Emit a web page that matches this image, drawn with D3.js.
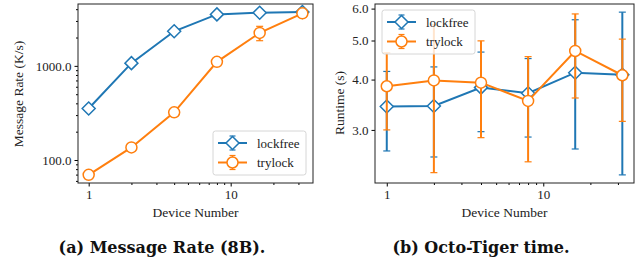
<!DOCTYPE html>
<html>
<head>
<meta charset="utf-8">
<script src="https://cdn.jsdelivr.net/npm/d3@7"></script>
<style>
  body { margin: 0; background: #fff; }
  svg text { font-family: "Liberation Serif", "Times New Roman", serif; fill: #222; }
  svg text.caption { font-family: "DejaVu Serif", serif; font-weight: bold; fill: #111; }
</style>
</head>
<body>
<svg id="chart" width="642" height="273"></svg>
<script>
// device counts shared by both panels
const devices = [1, 2, 4, 8, 16, 32];

// (a) message rate, K/s
const rateLockfree = [352, 1069, 2330, 3520, 3670, 3730];
const rateLockfreeErr = [8, 20, 40, 60, 60, 60];
const rateTrylock = [69.6, 136, 321, 1104, 2240, 3610];
const rateTrylockErr = [1.5, 3, 8, 30, 390, 60];

// (b) Octo-Tiger runtime, s (value, low, high of the error bar)
const timeLockfree = [3.43, 3.44, 3.82, 3.70, 4.16, 4.11];
const timeLockfreeLo = [2.66, 2.57, 2.97, 2.88, 2.69, 2.32];
const timeLockfreeHi = [4.19, 4.30, 4.68, 4.51, 5.63, 5.88];
const timeTrylock = [3.85, 3.98, 3.93, 3.54, 4.71, 4.10];
const timeTrylockLo = [3.00, 2.35, 2.87, 2.50, 3.60, 3.15];
const timeTrylockHi = [4.66, 5.47, 4.99, 4.56, 5.82, 5.04];

const xTicks = [1, 10];
const rateTicks = [100, 1000];
const timeTicks = [3, 4, 5, 6];
const seriesNames = ['lockfree', 'trylock'];
const colors = ['#1f77b4', '#ff7f0e'];

const svg = d3.select('#chart');

function diamond(r) {
    return `M0,${-r}L${r},0L0,${r}L${-r},0Z`;
}

function drawPanel(cfg) {
    const g = svg.append('g');
    const x = d3.scaleLog().domain([0.841, 38.0]).range([cfg.left, cfg.right]);
    const y = d3.scaleLog().domain(cfg.yDomain).range([cfg.bottom, cfg.top]);

    // minor x ticks
    const xMinor = [];
    [1, 10].forEach(b => { for (let k = 2; k <= 9; k++) if (b * k < 38) xMinor.push(b * k); });
    g.append('g')
        .attr('transform', `translate(0,${cfg.bottom})`)
        .call(d3.axisBottom(x).tickValues(xMinor).tickSize(2).tickFormat(''))
        .call(a => a.select('.domain').remove());
    g.append('g')
        .attr('transform', `translate(0,${cfg.bottom})`)
        .call(d3.axisBottom(x).tickValues(xTicks).tickSize(3.5).tickPadding(3).tickFormat(d3.format('d')))
        .call(a => a.select('.domain').remove())
        .call(a => a.selectAll('text').attr('font-size', 13).attr('fill', '#222'));

    if (cfg.yMinor) {
        g.append('g')
            .attr('transform', `translate(${cfg.left},0)`)
            .call(d3.axisLeft(y).tickValues(cfg.yMinor).tickSize(2).tickFormat(''))
            .call(a => a.select('.domain').remove());
    }
    g.append('g')
        .attr('transform', `translate(${cfg.left},0)`)
        .call(d3.axisLeft(y).tickValues(cfg.yTicks).tickSize(3.5).tickPadding(3).tickFormat(d3.format('.1f')))
        .call(a => a.select('.domain').remove())
        .call(a => a.selectAll('text').attr('font-size', 13).attr('fill', '#222'));

    // frame
    g.append('rect')
        .attr('x', cfg.left).attr('y', cfg.top)
        .attr('width', cfg.right - cfg.left).attr('height', cfg.bottom - cfg.top)
        .attr('fill', 'none').attr('stroke', '#222').attr('stroke-width', 1);

    const plot = g.append('g');
    cfg.series.forEach((s, i) => {
        const c = colors[i];
        const pts = devices.map((d, j) => ({x: d, v: s.v[j], lo: s.lo[j], hi: s.hi[j]}));
        // error bars
        pts.forEach(p => {
            const px = x(p.x);
            plot.append('line').attr('x1', px).attr('x2', px)
                .attr('y1', y(p.lo)).attr('y2', y(p.hi))
                .attr('stroke', c).attr('stroke-width', 2);
            [p.lo, p.hi].forEach(e => {
                plot.append('line').attr('x1', px - 3.5).attr('x2', px + 3.5)
                    .attr('y1', y(e)).attr('y2', y(e))
                    .attr('stroke', c).attr('stroke-width', 1.2);
            });
        });
        plot.append('path').datum(pts)
            .attr('d', d3.line().x(p => x(p.x)).y(p => y(p.v)))
            .attr('fill', 'none').attr('stroke', c).attr('stroke-width', 2);
        pts.forEach(p => {
            if (i === 0) {
                plot.append('path').attr('d', diamond(6.5))
                    .attr('transform', `translate(${x(p.x)},${y(p.v)})`)
                    .attr('fill', '#fff').attr('stroke', c).attr('stroke-width', 1.5);
            } else {
                plot.append('circle').attr('cx', x(p.x)).attr('cy', y(p.v)).attr('r', 5.5)
                    .attr('fill', '#fff').attr('stroke', c).attr('stroke-width', 1.5);
            }
        });
    });

    // legend
    const L = cfg.legend;
    g.append('rect')
        .attr('x', L.x).attr('y', L.y).attr('width', L.w).attr('height', L.h)
        .attr('rx', 2.5).attr('fill', 'rgba(255,255,255,0.8)')
        .attr('stroke', '#d6d6d6').attr('stroke-width', 1);
    seriesNames.forEach((name, i) => {
        const c = colors[i];
        const cy = L.y + 12 + i * 19.5;
        const mx = L.x + 19.5;
        g.append('line').attr('x1', L.x + 5).attr('x2', L.x + 34).attr('y1', cy).attr('y2', cy)
            .attr('stroke', c).attr('stroke-width', 2);
        g.append('line').attr('x1', mx).attr('x2', mx).attr('y1', cy - 7).attr('y2', cy + 7)
            .attr('stroke', c).attr('stroke-width', 1.5);
        [cy - 7, cy + 7].forEach(e => g.append('line')
            .attr('x1', mx - 3).attr('x2', mx + 3).attr('y1', e).attr('y2', e)
            .attr('stroke', c).attr('stroke-width', 1.2));
        if (i === 0) {
            g.append('path').attr('d', diamond(6.5)).attr('transform', `translate(${mx},${cy})`)
                .attr('fill', '#fff').attr('stroke', c).attr('stroke-width', 1.5);
        } else {
            g.append('circle').attr('cx', mx).attr('cy', cy).attr('r', 5.5)
                .attr('fill', '#fff').attr('stroke', c).attr('stroke-width', 1.5);
        }
        g.append('text').attr('x', L.x + 44).attr('y', cy).attr('dy', '0.35em')
            .attr('font-size', 13).text(name);
    });

    // axis labels
    g.append('text')
        .attr('x', (x(1) + x(32)) / 2).attr('y', 217)
        .attr('text-anchor', 'middle').attr('font-size', 13.5).text('Device Number');
    g.append('text')
        .attr('transform', `translate(${cfg.ylabelX},${cfg.ylabelY}) rotate(-90)`)
        .attr('text-anchor', 'middle').attr('dy', '0.35em')
        .attr('font-size', 13.5).text(cfg.ylabel);

    // caption
    svg.append('text').attr('class', 'caption')
        .attr('x', cfg.captionX).attr('y', 253)
        .attr('text-anchor', 'middle').attr('font-size', 16).text(cfg.caption);
}

const rateMinor = [];
[10, 100, 1000].forEach(b => { for (let k = 2; k <= 9; k++) { const v = b * k; if (v > 57 && v < 4540 && v !== 100 && v !== 1000) rateMinor.push(v); } });

drawPanel({
    left: 78, right: 313, top: 4, bottom: 183,
    yDomain: [57, 4540],
    yTicks: rateTicks,
    yMinor: rateMinor,
    series: [
        {v: rateLockfree, lo: rateLockfree.map((v, j) => v - rateLockfreeErr[j]), hi: rateLockfree.map((v, j) => v + rateLockfreeErr[j])},
        {v: rateTrylock, lo: rateTrylock.map((v, j) => v - rateTrylockErr[j]), hi: rateTrylock.map((v, j) => v + rateTrylockErr[j])}
    ],
    legend: {x: 213, y: 131, w: 93, h: 44},
    ylabel: 'Message Rate (K/s)', ylabelX: 18, ylabelY: 94,
    caption: '(a) Message Rate (8B).', captionX: 162
});

drawPanel({
    left: 375, right: 634, top: 4, bottom: 183,
    yDomain: [2.215, 6.16],
    yTicks: timeTicks,
    yMinor: null,
    series: [
        {v: timeLockfree, lo: timeLockfreeLo, hi: timeLockfreeHi},
        {v: timeTrylock, lo: timeTrylockLo, hi: timeTrylockHi}
    ],
    legend: {x: 382, y: 10, w: 93, h: 44},
    ylabel: 'Runtime (s)', ylabelX: 339, ylabelY: 103,
    caption: '(b) Octo-Tiger time.', captionX: 481
});
</script>
</body>
</html>
